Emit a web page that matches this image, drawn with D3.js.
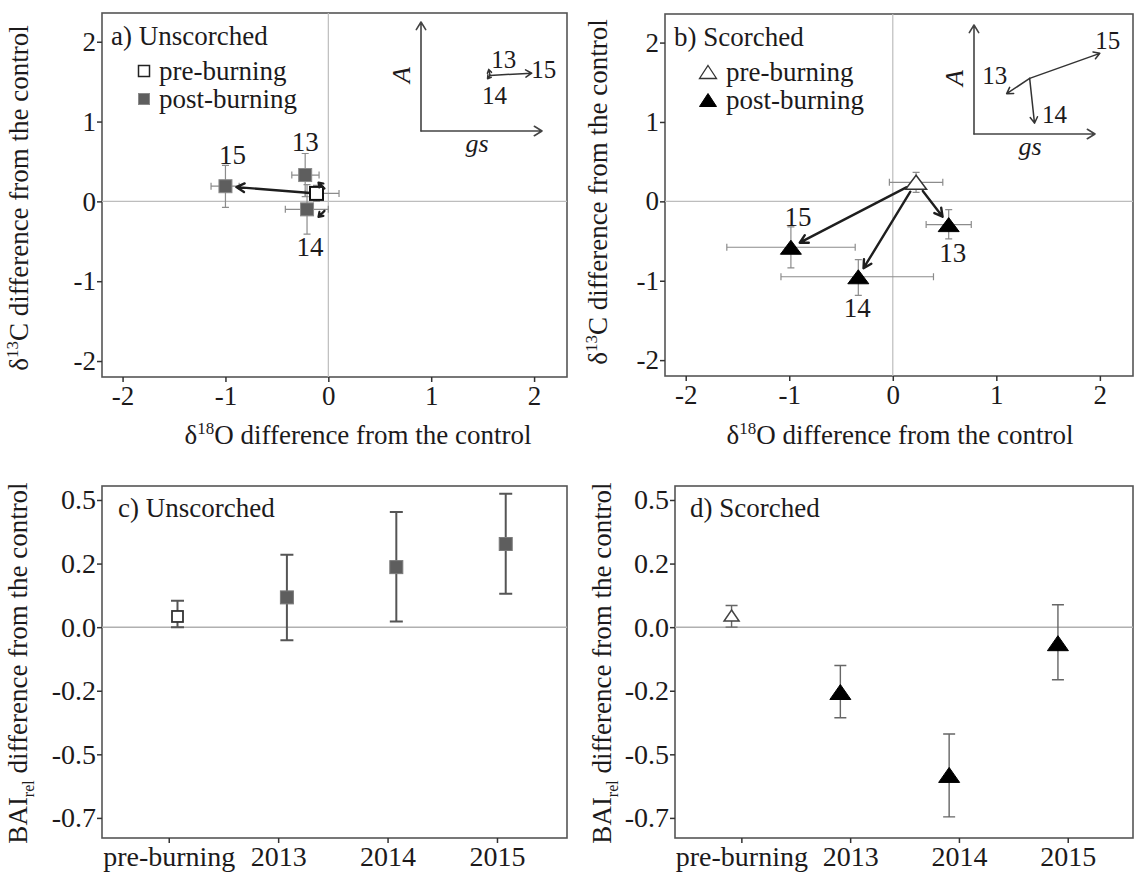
<!DOCTYPE html>
<html>
<head>
<meta charset="utf-8">
<script src="https://cdn.jsdelivr.net/npm/d3@7"></script>
<style>
  body { margin: 0; background: #fff; }
  svg { display: block; }
</style>
</head>
<body>
<svg id="fig" width="1135" height="872"></svg>
<script>
// ---------------------------------------------------------------
// Isotope shifts (δ18O, δ13C) relative to the control plot
// order: pre-burning, 2013, 2014, 2015
// ---------------------------------------------------------------
const isoYears = ["pre", "13", "14", "15"];

// unscorched trees
const unscO     = [-0.115, -0.225, -0.207, -1.00];
const unscOLow  = [-0.224, -0.355, -0.418, -1.14];
const unscOHigh = [ 0.104, -0.090,  0.000, -0.867];
const unscC     = [ 0.100,  0.330, -0.100,  0.190];
const unscCLow  = [ 0.000,  0.060, -0.410, -0.075];
const unscCHigh = [ 0.200,  0.600,  0.210,  0.450];

// scorched trees
const scoO     = [ 0.225,  0.540, -0.333, -0.984];
const scoOLow  = [-0.033,  0.322, -1.080, -1.603];
const scoOHigh = [ 0.483,  0.758,  0.393, -0.363];
const scoC     = [ 0.240, -0.293, -0.950, -0.578];
const scoCLow  = [ 0.113, -0.472, -1.185, -0.837];
const scoCHigh = [ 0.365, -0.104, -0.733, -0.322];

// schematic A–gs response (inset, axis units 0..1): origin, 13, 14, 15
const insetUnscGs = [0.57, 0.56, 0.55, 0.915];
const insetUnscA  = [0.51, 0.565, 0.48, 0.53];
const insetScoGs  = [0.46, 0.27, 0.50, 1.04];
const insetScoA   = [0.51, 0.37, 0.10, 0.74];

// ---------------------------------------------------------------
// Relative basal area increment difference from the control
// ---------------------------------------------------------------
const baiCats = ["pre-burning", "2013", "2014", "2015"];
const baiUnsc     = [0.042,  0.117, 0.236, 0.327];
const baiUnscLow  = [0.000, -0.051, 0.022, 0.131];
const baiUnscHigh = [0.104,  0.285, 0.453, 0.525];
const baiSco      = [0.046, -0.255, -0.581, -0.063];
const baiScoLow   = [0.000, -0.356, -0.746, -0.207];
const baiScoHigh  = [0.085, -0.151, -0.420,  0.088];

// tick marks
const isoTicks = [-2, -1, 0, 1, 2];
const baiTickValues = [0.5, 0.25, 0, -0.25, -0.5, -0.75];
const baiTickLabels = ["0.5", "0.2", "0.0", "-0.2", "-0.5", "-0.7"];

// ---------------------------------------------------------------
const FONT = '"Liberation Serif","Times New Roman",serif';
const INK = "#1c1a1b";
const svg = d3.select("#fig");

const boxes = {
  a: { x0: 102, y0: 13, x1: 567, y1: 377 },
  b: { x0: 665, y0: 14, x1: 1133, y1: 376 },
  c: { x0: 102, y0: 486, x1: 567, y1: 838 },
  d: { x0: 675, y0: 486, x1: 1133, y1: 838 }
};

function styleAxis(g, size) {
  g.attr("font-family", FONT).attr("font-size", size);
  g.select(".domain").remove();
  g.selectAll(".tick line").attr("stroke", "#333").attr("stroke-width", 1.5);
  g.selectAll(".tick text").attr("fill", INK);
}

function frame(box) {
  svg.append("rect")
    .attr("x", box.x0).attr("y", box.y0)
    .attr("width", box.x1 - box.x0).attr("height", box.y1 - box.y0)
    .attr("fill", "none").attr("stroke", "#555").attr("stroke-width", 1.6);
}

function arrow(g, x1, y1, x2, y2, o) {
  const ang = Math.atan2(y2 - y1, x2 - x1);
  const a1 = ang + Math.PI - o.half, a2 = ang + Math.PI + o.half;
  const h1 = [x2 + o.len * Math.cos(a1), y2 + o.len * Math.sin(a1)];
  const h2 = [x2 + o.len * Math.cos(a2), y2 + o.len * Math.sin(a2)];
  g.append("path")
    .attr("d", `M${x1},${y1}L${x2},${y2}M${h1[0]},${h1[1]}L${x2},${y2}L${h2[0]},${h2[1]}`)
    .attr("fill", "none").attr("stroke", o.color).attr("stroke-width", o.width)
    .attr("stroke-linecap", "round").attr("stroke-linejoin", "round");
}

function triPath(w, h) {
  return `M0,${-h / 2}L${w / 2},${h / 2}L${-w / 2},${h / 2}Z`;
}

function marker(g, shape, filled, cx, cy, s) {
  if (shape === "square") {
    g.append("rect")
      .attr("x", cx - s.w / 2).attr("y", cy - s.h / 2)
      .attr("width", s.w).attr("height", s.h)
      .attr("fill", filled ? s.fill : "#fff")
      .attr("stroke", filled ? s.edge : s.open).attr("stroke-width", filled ? 1 : s.sw);
  } else {
    g.append("path")
      .attr("d", triPath(s.w, s.h))
      .attr("transform", `translate(${cx},${cy})`)
      .attr("fill", filled ? s.fill : "#fff")
      .attr("stroke", filled ? s.fill : s.open).attr("stroke-width", filled ? 1 : s.sw)
      .attr("stroke-linejoin", "miter");
  }
}

function yTitle(cx, cy, parts) {
  const t = svg.append("text")
    .attr("transform", `translate(${cx},${cy}) rotate(-90)`)
    .attr("text-anchor", "middle").attr("dy", "0.33em")
    .attr("font-family", FONT).attr("font-size", 27).attr("fill", INK);
  parts.forEach(p => {
    t.append("tspan").text(p.t)
      .attr("font-size", p.size || 27)
      .attr("dy", p.dy || 0);
  });
}

// ---------------------------------------------------------------
// δ18O vs δ13C panels
// ---------------------------------------------------------------
function drawIso(box, d, cfg) {
  const g = svg.append("g");
  const x = d3.scaleLinear().domain([-2.2, 2.32]).range([box.x0, box.x1]);
  const y = d3.scaleLinear().domain([-2.2, 2.36]).range([box.y1, box.y0]);

  // zero reference lines
  g.append("line").attr("x1", x(0)).attr("x2", x(0)).attr("y1", box.y0).attr("y2", box.y1)
    .attr("stroke", "#bdbdbd").attr("stroke-width", 1.2);
  g.append("line").attr("x1", box.x0).attr("x2", box.x1).attr("y1", y(0)).attr("y2", y(0))
    .attr("stroke", "#bdbdbd").attr("stroke-width", 1.2);

  const ay = g.append("g").attr("transform", `translate(${box.x0},0)`)
    .call(d3.axisLeft(y).tickValues(isoTicks).tickFormat(v => String(v)).tickSize(5).tickPadding(1));
  styleAxis(ay, 27);
  const ax = g.append("g").attr("transform", `translate(0,${box.y1})`)
    .call(d3.axisBottom(x).tickValues(isoTicks).tickFormat(v => String(v)).tickSize(5).tickPadding(4));
  styleAxis(ax, 27);

  // error bars
  const eb = g.append("g").attr("stroke", "#8c8c8c").attr("stroke-width", 1.2).attr("fill", "none");
  const cap = 3.5;
  d.o.forEach((_, i) => {
    const px = x(d.o[i]), py = y(d.c[i]);
    const xl = x(d.oLow[i]), xh = x(d.oHigh[i]);
    const yl = y(d.cLow[i]), yh = y(d.cHigh[i]);
    eb.append("path").attr("d",
      `M${xl},${py}H${xh}M${xl},${py - cap}V${py + cap}M${xh},${py - cap}V${py + cap}` +
      `M${px},${yl}V${yh}M${px - cap},${yl}H${px + cap}M${px - cap},${yh}H${px + cap}`);
  });

  // shift arrows from pre-burning to each post-burning year
  const ag = g.append("g");
  const mg = g.append("g");
  const sg = g.append("g");
  const p0 = [x(d.o[0]), y(d.c[0])];
  for (let i = 1; i < d.o.length; i++) {
    const p1 = [x(d.o[i]), y(d.c[i])];
    const dx = p1[0] - p0[0], dy = p1[1] - p0[1];
    const len = Math.hypot(dx, dy);
    const ux = dx / len, uy = dy / len;
    if (len > 30) {
      arrow(ag, p0[0] + ux * cfg.startGap, p0[1] + uy * cfg.startGap,
        p1[0] - ux * cfg.endGap, p1[1] - uy * cfg.endGap,
        { len: 9, half: 0.5, width: 2.4, color: "#1e1e1e" });
    } else {
      // markers overlap: a small arrow beside them, drawn on top
      const s = Math.sign(p0[1] - p1[1]);
      const tip = [p0[0] + 2, p1[1] + 7.5];
      arrow(sg, tip[0] + 6, tip[1] + 6 * s, tip[0], tip[1],
        { len: 5, half: 0.6, width: 2.2, color: "#1e1e1e" });
    }
  }

  // markers
  d.o.forEach((_, i) => {
    marker(mg, cfg.shape, i > 0, x(d.o[i]), y(d.c[i]), cfg.mk);
  });

  // year labels
  const lg = g.append("g").attr("font-family", FONT).attr("font-size", 27)
    .attr("fill", INK).attr("text-anchor", "middle");
  for (let i = 1; i < d.o.length; i++) {
    const off = cfg.labelOff[isoYears[i]];
    lg.append("text").attr("x", x(d.o[i]) + off[0]).attr("y", y(d.c[i]) + off[1])
      .attr("dy", "0.35em").text(isoYears[i]);
  }

  // panel label and legend
  const tg = g.append("g").attr("font-family", FONT).attr("font-size", 27).attr("fill", INK);
  tg.append("text").attr("x", box.x0 + 9).attr("y", box.y0 + 32).text(cfg.title);
  const lx = box.x0 + cfg.legX;
  [["pre-burning", false], ["post-burning", true]].forEach(([lab, filled], k) => {
    const cy = box.y0 + 58 + k * 28;
    marker(tg, cfg.shape, filled, lx, cy, cfg.legMk);
    tg.append("text").attr("x", lx + cfg.legTextDx).attr("y", cy + 9).text(lab);
  });

  // inset: schematic direction of change in A and gs
  const ig = g.append("g").attr("transform", `translate(${box.x0 + cfg.inset[0]},${box.y0 + cfg.inset[1]})`);
  const iw = 121, ih = 109;
  const ix = d3.scaleLinear().domain([0, 1]).range([0, iw]);
  const iy = d3.scaleLinear().domain([0, 1]).range([0, -ih]);
  arrow(ig, 0, 0, 0, -ih, { len: 9, half: 0.55, width: 1.6, color: "#444" });
  arrow(ig, 0, 0, iw, 0, { len: 9, half: 0.55, width: 1.6, color: "#444" });
  ig.append("text").attr("transform", `translate(-20,-56) rotate(-90)`)
    .attr("text-anchor", "middle").attr("dy", "0.35em")
    .attr("font-family", FONT).attr("font-size", 26).attr("font-style", "italic")
    .attr("fill", INK).text("A");
  ig.append("text").attr("x", 56).attr("y", 12).attr("dy", "0.35em")
    .attr("text-anchor", "middle").attr("font-family", FONT).attr("font-size", 26)
    .attr("font-style", "italic").attr("fill", INK).text("gs");
  const o = [ix(d.iGs[0]), iy(d.iA[0])];
  for (let i = 1; i < d.iGs.length; i++) {
    const t = [ix(d.iGs[i]), iy(d.iA[i])];
    const short = Math.hypot(t[0] - o[0], t[1] - o[1]) < 15;
    arrow(ig, o[0], o[1], t[0], t[1],
      { len: short ? 4 : 7, half: 0.55, width: 1.5, color: "#333" });
    const off = cfg.insetLab[isoYears[i]];
    ig.append("text").attr("x", t[0] + off[0]).attr("y", t[1] + off[1]).attr("dy", "0.35em")
      .attr("text-anchor", "middle").attr("font-family", FONT).attr("font-size", 25)
      .attr("fill", INK).text(isoYears[i]);
  }
}

// ---------------------------------------------------------------
// BAI panels
// ---------------------------------------------------------------
function drawBai(box, v, lo, hi, cfg) {
  const g = svg.append("g");
  const x = d3.scaleLinear().domain([-0.61, cfg.xMax]).range([box.x0, box.x1]);
  const y = d3.scaleLinear().domain([-0.829, 0.555]).range([box.y1, box.y0]);

  g.append("line").attr("x1", box.x0).attr("x2", box.x1).attr("y1", y(0)).attr("y2", y(0))
    .attr("stroke", "#b0b0b0").attr("stroke-width", 1.5);

  const ay = g.append("g").attr("transform", `translate(${box.x0},0)`)
    .call(d3.axisLeft(y).tickValues(baiTickValues)
      .tickFormat((t, i) => baiTickLabels[i]).tickSize(5).tickPadding(1));
  styleAxis(ay, 28);
  const ax = g.append("g").attr("transform", `translate(0,${box.y1})`)
    .call(d3.axisBottom(x).tickValues(d3.range(baiCats.length))
      .tickFormat(i => baiCats[i]).tickSize(5).tickPadding(3));
  styleAxis(ax, 28);

  const eb = g.append("g").attr("stroke", cfg.ebColor).attr("stroke-width", cfg.ebWidth).attr("fill", "none");
  v.forEach((_, i) => {
    const px = x(i + cfg.dodge);
    eb.append("path").attr("d",
      `M${px},${y(lo[i])}V${y(hi[i])}M${px - cfg.cap},${y(lo[i])}H${px + cfg.cap}M${px - cfg.cap},${y(hi[i])}H${px + cfg.cap}`);
  });
  const mg = g.append("g");
  v.forEach((_, i) => {
    marker(mg, cfg.shape, i > 0, x(i + cfg.dodge), y(v[i]), i > 0 ? cfg.mk : cfg.mkOpen);
  });

  g.append("text").attr("x", box.x0 + cfg.titleDx).attr("y", box.y0 + 31)
    .attr("font-family", FONT).attr("font-size", 27).attr("fill", INK).text(cfg.title);
}

// ---------------------------------------------------------------
// draw
// ---------------------------------------------------------------
Object.values(boxes).forEach(frame);

drawIso(boxes.a, {
  o: unscO, oLow: unscOLow, oHigh: unscOHigh,
  c: unscC, cLow: unscCLow, cHigh: unscCHigh,
  iGs: insetUnscGs, iA: insetUnscA
}, {
  title: "a) Unscorched", shape: "square",
  mk: { w: 13, h: 13, fill: "#5e5e5e", edge: "#8a8a8a", open: "#111", sw: 2 },
  legMk: { w: 11, h: 11, fill: "#5e5e5e", edge: "#8a8a8a", open: "#222", sw: 1.5 },
  legX: 42, legTextDx: 15,
  startGap: 6, endGap: 11,
  labelOff: { "13": [0, -33], "14": [3, 37], "15": [7, -32] },
  inset: [319, 118],
  insetLab: { "13": [15, -10], "14": [7, 17], "15": [12, -4] }
});

drawIso(boxes.b, {
  o: scoO, oLow: scoOLow, oHigh: scoOHigh,
  c: scoC, cLow: scoCLow, cHigh: scoCHigh,
  iGs: insetScoGs, iA: insetScoA
}, {
  title: "b) Scorched", shape: "tri",
  mk: { w: 21, h: 14, fill: "#000", open: "#333", sw: 1.5 },
  legMk: { w: 17, h: 13, fill: "#000", open: "#333", sw: 1.3 },
  legX: 43, legTextDx: 18,
  startGap: 11, endGap: 10,
  labelOff: { "13": [4, 28], "14": [-1, 31], "15": [7, -31] },
  inset: [309, 120],
  insetLab: { "13": [-12, -18], "14": [20, -9], "15": [8, -13] }
});

drawBai(boxes.c, baiUnsc, baiUnscLow, baiUnscHigh, {
  title: "c) Unscorched", titleDx: 16, shape: "square", xMax: 3.64, dodge: 0.08,
  ebColor: "#555", ebWidth: 2, cap: 6.5,
  mk: { w: 13, h: 13, fill: "#5e5e5e", edge: "#7a7a7a" },
  mkOpen: { w: 11, h: 11, open: "#333", sw: 1.8 }
});

drawBai(boxes.d, baiSco, baiScoLow, baiScoHigh, {
  title: "d) Scorched", titleDx: 15, shape: "tri", xMax: 3.6, dodge: -0.09,
  ebColor: "#666", ebWidth: 1.4, cap: 6,
  mk: { w: 21, h: 15, fill: "#000" },
  mkOpen: { w: 15, h: 11, open: "#444", sw: 1.5 }
});

// axis titles
const d13 = [{ t: "δ" }, { t: "13", size: 17, dy: -10 }, { t: "C difference from the control", dy: 10 }];
const d18 = [{ t: "δ" }, { t: "18", size: 17, dy: -10 }, { t: "O difference from the control", dy: 10 }];
const bai = [{ t: "BAI" }, { t: "rel", size: 16, dy: 7 }, { t: " difference from the control", dy: -7 }];

yTitle(28, 198, d13);
yTitle(607, 192, d13);
yTitle(27, 663, bai);
yTitle(611, 663, bai);

function xTitle(cx, by, parts) {
  const t = svg.append("text").attr("x", cx).attr("y", by).attr("text-anchor", "middle")
    .attr("font-family", FONT).attr("font-size", 27).attr("fill", INK);
  parts.forEach(p => t.append("tspan").text(p.t).attr("font-size", p.size || 27).attr("dy", p.dy || 0));
}
xTitle(358, 444, d18);
xTitle(900, 444, d18);
</script>
</body>
</html>
